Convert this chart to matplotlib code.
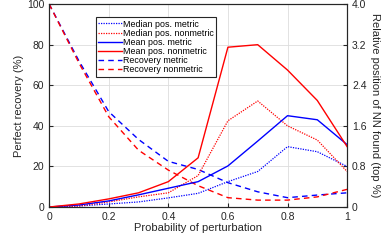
import matplotlib
matplotlib.use("Agg")
import matplotlib.pyplot as plt

plt.rcParams['font.family'] = ['Liberation Sans', 'DejaVu Sans']

# perturbation probability
p = [0.0, 0.1, 0.2, 0.3, 0.4, 0.5, 0.6, 0.7, 0.8, 0.9, 1.0]

# relative position of NN found (top %), right axis
median_metric = [0.0, 0.02, 0.06, 0.10, 0.18, 0.27, 0.50, 0.70, 1.19, 1.09, 0.80]
median_nonmetric = [0.0, 0.02, 0.10, 0.20, 0.28, 0.62, 1.70, 2.09, 1.60, 1.32, 0.70]
mean_metric = [0.0, 0.04, 0.12, 0.24, 0.37, 0.50, 0.81, 1.30, 1.80, 1.72, 1.23]
mean_nonmetric = [0.0, 0.06, 0.16, 0.28, 0.50, 0.97, 3.15, 3.20, 2.70, 2.10, 1.19]

# perfect recovery (%), left axis
recovery_metric = [100, 72, 47, 33.3, 22.5, 18.5, 12, 7.5, 4.6, 5.9, 7]
recovery_nonmetric = [100, 71, 44.5, 28, 18.2, 10.5, 4.6, 3.4, 3.4, 5, 8.7]

fig = plt.figure(figsize=(3.9, 2.41), dpi=100)
ax = fig.add_axes([0.126, 0.141, 0.764, 0.842])
ax2 = ax.twinx()

# left axis: recovery
l5, = ax.plot(p, recovery_metric, color='blue', ls=(0, (4, 3)), lw=1.0)
l6, = ax.plot(p, recovery_nonmetric, color='red', ls=(0, (4, 3)), lw=1.0)

# right axis: positions
l1, = ax2.plot(p, median_metric, color='blue', ls=(0, (1, 1)), lw=0.9)
l2, = ax2.plot(p, median_nonmetric, color='red', ls=(0, (1, 1)), lw=0.9)
l3, = ax2.plot(p, mean_metric, color='blue', lw=1.0)
l4, = ax2.plot(p, mean_nonmetric, color='red', lw=1.0)

ax.set_xlim(0, 1)
ax.set_ylim(0, 100)
ax2.set_ylim(0, 4)
ax.set_xticks([0, 0.2, 0.4, 0.6, 0.8, 1])
ax.set_xticklabels(['0', '0.2', '0.4', '0.6', '0.8', '1'])
ax.set_yticks([0, 20, 40, 60, 80, 100])
ax2.set_yticks([0, 0.8, 1.6, 2.4, 3.2, 4.0])
ax2.set_yticklabels(['0', '0.8', '1.6', '2.4', '3.2', '4.0'])
ax.grid(True, color='#dddddd', lw=0.6)
ax.set_axisbelow(True)

for a in (ax, ax2):
    a.tick_params(direction='in', labelsize=7.5, length=3, colors='#262626')
    for s in a.spines.values():
        s.set_color('#262626')
        s.set_linewidth(0.8)

ax.set_xlabel('Probability of perturbation', fontsize=8, color='#262626', labelpad=1)
ax.set_ylabel('Perfect recovery (%)', fontsize=8, color='#262626', labelpad=2)
ax2.set_ylabel('Relative position of NN found (top %)', fontsize=8,
               color='#262626', rotation=270, labelpad=10)

leg = ax2.legend([l1, l2, l3, l4, l5, l6],
                 ['Median pos. metric', 'Median pos. nonmetric', 'Mean pos. metric',
                  'Mean pos. nonmetric', 'Recovery metric', 'Recovery nonmetric'],
                 loc='upper left', bbox_to_anchor=(0.158, 0.935), fontsize=6.4,
                 frameon=True, fancybox=False, framealpha=1, edgecolor='#262626',
                 handlelength=2.6, handletextpad=0.2, labelspacing=0.02,
                 borderpad=0.25, borderaxespad=0)
leg.get_frame().set_linewidth(0.8)

fig.savefig('out.png', dpi=100)
